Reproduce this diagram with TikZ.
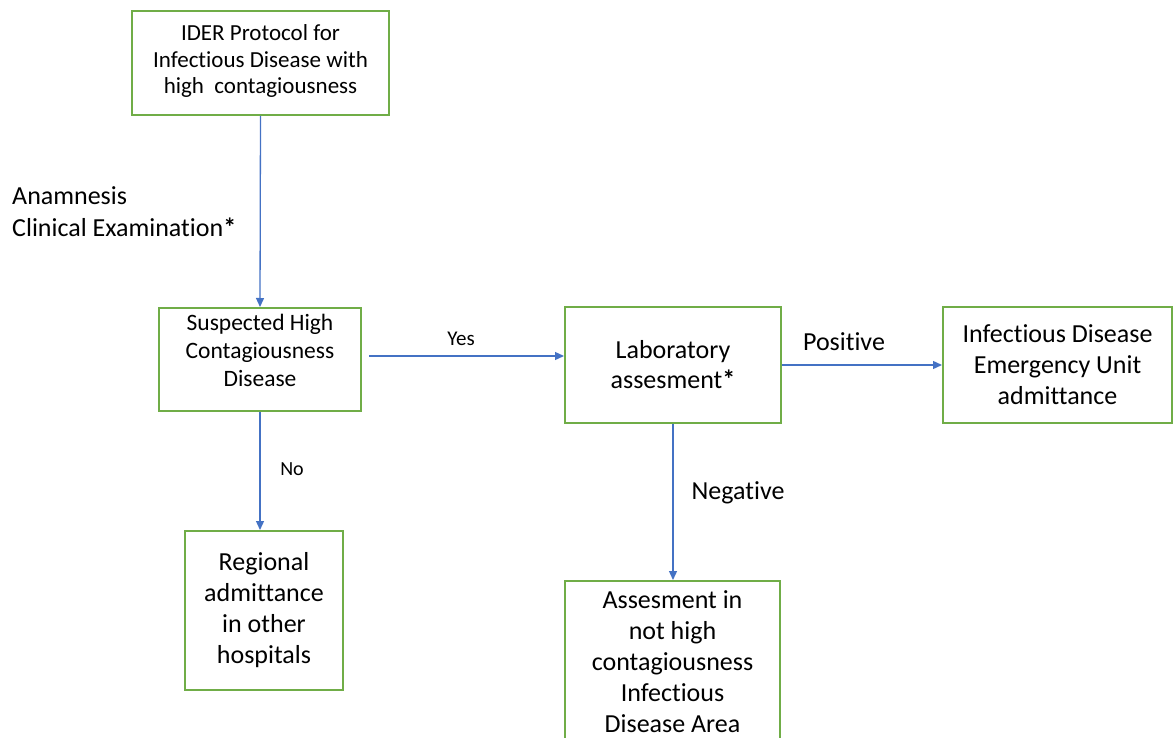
\documentclass[tikz,border=0pt]{standalone}
\usepackage{fontspec}
\setmainfont{Carlito}[Ligatures={NoCommon,NoRare}]
\usetikzlibrary{arrows.meta}
\definecolor{boxgreen}{RGB}{112,173,71}
\definecolor{arrblue}{RGB}{68,114,196}
\newcommand{\bstar}{\textbf{*}}
\tikzset{
  box/.style={draw=boxgreen, line width=2pt, align=center, inner sep=2pt},
  conn/.style={draw=arrblue, line width=1.3pt, -{Triangle[length=9pt,width=8pt]}},
  lbl/.style={inner sep=0pt, text=black}
}
\begin{document}
\begin{tikzpicture}[x=1pt,y=-1pt]
\useasboundingbox (0,0) rectangle (1173,738);
\node[box, minimum width=257pt, minimum height=104pt, font=\fontsize{23}{26.5}\selectfont] (ider) at (260.5,63) {IDER Protocol for\\Infectious Disease with\\high\ \ contagiousness\\[-19pt]};
\node[box, minimum width=202pt, minimum height=103pt, font=\fontsize{23.5}{28}\selectfont] (susp) at (260,359.5) {Suspected High\\Contagiousness\\Disease\\[-10pt]};
\node[box, minimum width=216pt, minimum height=116pt, font=\fontsize{26}{30}\selectfont] (lab) at (673,365) {Laboratory\\assesment\bstar};
\node[box, minimum width=229pt, minimum height=116pt, font=\fontsize{26}{31}\selectfont] (ide) at (1057.5,365) {Infectious Disease\\Emergency Unit\\admittance};
\node[box, minimum width=158pt, minimum height=159pt, font=\fontsize{26}{31}\selectfont] (reg) at (264,610.5) {Regional\\admittance\\in other\\hospitals};
\node[box, minimum width=215pt, minimum height=162pt, font=\fontsize{26}{31}\selectfont] (ass) at (672.5,662) {Assesment in\\not high\\contagiousness\\Infectious\\Disease Area};
\node[lbl, anchor=west, align=left, font=\fontsize{26}{32}\selectfont] (anam) at (12,212) {Anamnesis\\Clinical Examination\bstar};
\node[lbl, font=\fontsize{21}{24}\selectfont] (yes) at (461,339) {Yes};
\node[lbl, font=\fontsize{26}{30}\selectfont] (pos) at (844,342) {Positive};
\node[lbl, font=\fontsize{20}{24}\selectfont] (no) at (292,469) {No};
\node[lbl, font=\fontsize{26}{30}\selectfont] (neg) at (738,493) {Negative};
\draw[conn] (ider.south) -- (susp.north);
\draw[conn, shorten <=7pt] (susp.east |- 0,356) -- (lab.west |- 0,356);
\draw[conn] (lab.east) -- (ide.west);
\draw[conn] (susp.south) -- (reg.north -| susp.south);
\draw[conn] (lab.south) -- (ass.north -| lab.south);
\end{tikzpicture}
\end{document}
